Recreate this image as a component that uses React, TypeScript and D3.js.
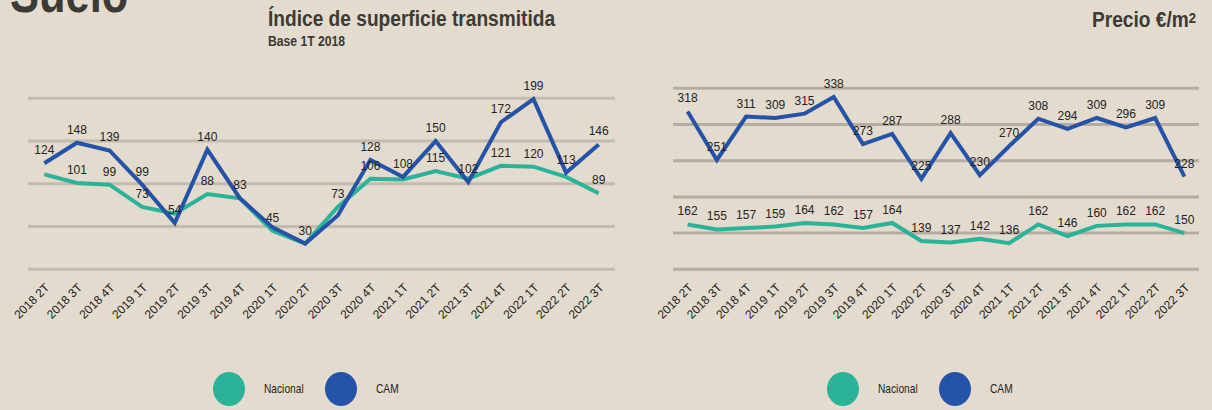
import React from "react";
import * as d3 from "d3";

const quarters = [
  "2018 2T", "2018 3T", "2018 4T", "2019 1T", "2019 2T", "2019 3T",
  "2019 4T", "2020 1T", "2020 2T", "2020 3T", "2020 4T", "2021 1T",
  "2021 2T", "2021 3T", "2021 4T", "2022 1T", "2022 2T", "2022 3T",
];

// Índice de superficie transmitida (Base 1T 2018)
const indiceNacional = [111, 101, 99, 73, 65, 88, 83, 45, 30, 73, 106, 105, 115, 106, 121, 120, 108, 89];
const indiceCAM = [124, 148, 139, 99, 54, 140, 83, 49, 30, 63, 128, 108, 150, 102, 172, 199, 113, 146];
const indiceNacionalLabeled = [1, 2, 3, 5, 7, 9, 10, 12, 14, 15, 17];
const indiceCAMLabeled = [0, 1, 2, 3, 4, 5, 6, 8, 10, 11, 12, 13, 14, 15, 16, 17];
const indiceTicks = [0, 50, 100, 150, 200];

// Precio €/m2
const precioNacional = [162, 155, 157, 159, 164, 162, 157, 164, 139, 137, 142, 136, 162, 146, 160, 162, 162, 150];
const precioCAM = [318, 251, 311, 309, 315, 338, 273, 287, 225, 288, 230, 270, 308, 294, 309, 296, 309, 228];
const precioTicks = [100, 150, 200, 250, 300, 350];

const legendItems = ["Nacional", "CAM"];

const BG = "#E3DBCD";
const GREEN = "#2BB39A";
const BLUE = "#2553A8";
const TEXT = "#232323";
const TITLE = "#3B3A35";
const SANS = "'Liberation Sans', Arial, sans-serif";

type Panel = {
  x0: number;
  x1: number;
  yTop: number;
  yBottom: number;
  domain: [number, number];
  ticks: number[];
  nacional: number[];
  cam: number[];
  nacLabeled: number[];
  camLabeled: number[];
  gridColor: string;
  legendX: number;
};

function ChartPanel({ p }: { p: Panel }) {
  const x = d3.scaleBand<string>().domain(quarters).range([p.x0, p.x1]);
  const y = d3.scaleLinear().domain(p.domain).range([p.yBottom, p.yTop]);
  const cx = (q: string) => (x(q) as number) + x.bandwidth() / 2;
  const line = d3
    .line<number>()
    .x((_, i) => cx(quarters[i]))
    .y((v) => y(v));
  const labels = (vals: number[], idx: number[], key: string) =>
    idx.map((i) => (
      <text
        key={key + i}
        x={cx(quarters[i])}
        y={y(vals[i]) - 9}
        textAnchor="middle"
        fontFamily={SANS}
        fontSize={12}
        fill={TEXT}
      >
        {vals[i]}
      </text>
    ));
  return (
    <g>
      {p.ticks.map((t) => (
        <line
          key={"g" + t}
          x1={p.x0}
          x2={p.x1}
          y1={y(t)}
          y2={y(t)}
          stroke={p.gridColor}
          strokeWidth={3}
        />
      ))}
      <path d={line(p.nacional) || ""} fill="none" stroke={GREEN} strokeWidth={4} />
      <path d={line(p.cam) || ""} fill="none" stroke={BLUE} strokeWidth={4} />
      {labels(p.nacional, p.nacLabeled, "n")}
      {labels(p.cam, p.camLabeled, "c")}
      {quarters.map((q) => (
        <text
          key={"x" + q}
          transform={`translate(${cx(q) + 3},${p.yBottom + 16}) rotate(-45)`}
          textAnchor="end"
          dy="0.35em"
          fontFamily={SANS}
          fontSize={12}
          fill={TEXT}
        >
          {q}
        </text>
      ))}
      {legendItems.map((name, i) => (
        <g key={"l" + name} transform={`translate(${p.legendX + i * 112},389)`}>
          <ellipse cx={0} cy={0} rx={16} ry={17} fill={i === 0 ? GREEN : BLUE} />
          <text
            transform="translate(35,0) scale(0.85,1)"
            dy="0.35em"
            fontFamily={SANS}
            fontSize={12}
            fill={TEXT}
          >
            {name}
          </text>
        </g>
      ))}
    </g>
  );
}

export default function App() {
  const left: Panel = {
    x0: 28,
    x1: 615,
    yTop: 98.3,
    yBottom: 269.3,
    domain: [0, 200],
    ticks: indiceTicks,
    nacional: indiceNacional,
    cam: indiceCAM,
    nacLabeled: indiceNacionalLabeled,
    camLabeled: indiceCAMLabeled,
    gridColor: "#C3BBAE",
    legendX: 229,
  };
  const right: Panel = {
    x0: 673,
    x1: 1199,
    yTop: 88.3,
    yBottom: 269.3,
    domain: [100, 350],
    ticks: precioTicks,
    nacional: precioNacional,
    cam: precioCAM,
    nacLabeled: quarters.map((_, i) => i),
    camLabeled: quarters.map((_, i) => i),
    gridColor: "#B5ADA1",
    legendX: 843,
  };
  return (
    <svg
      width={1212}
      height={410}
      style={{ position: "absolute", left: 0, top: 0, display: "block" }}
    >
      <rect width={1212} height={410} fill={BG} />
      <text transform="translate(10,12) scale(0.82,1)" fontFamily={SANS} fontWeight="bold" fontSize={53} fill={TITLE}>
        Suelo
      </text>
      <text transform="translate(268,26) scale(0.87,1)" fontFamily={SANS} fontWeight="bold" fontSize={22} fill={TITLE}>
        Índice de superficie transmitida
      </text>
      <text transform="translate(268,46) scale(0.87,1)" fontFamily={SANS} fontWeight="bold" fontSize={14} fill={TITLE}>
        Base 1T 2018
      </text>
      <text
        transform="translate(1196,27) scale(0.87,1)"
        textAnchor="end"
        fontFamily={SANS}
        fontWeight="bold"
        fontSize={22}
        fill={TITLE}
      >
        Precio €/m<tspan fontSize={15} dy={-4}>2</tspan>
      </text>
      <ChartPanel p={left} />
      <ChartPanel p={right} />
    </svg>
  );
}
